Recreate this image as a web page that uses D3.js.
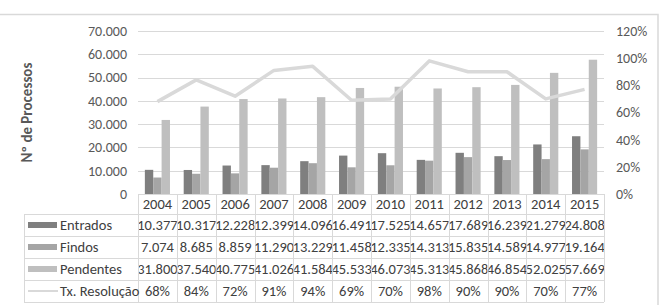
<!DOCTYPE html>
<html>
<head>
<meta charset="utf-8">
<script src="https://cdn.jsdelivr.net/npm/d3@7"></script>
<style>
  body { margin: 0; background: #fff; }
  svg { font-family: Carlito, "Noto Sans", "Open Sans", sans-serif; }
</style>
</head>
<body>
<div id="chart-area"></div>
<script>
// data
var years = ["2004","2005","2006","2007","2008","2009","2010","2011","2012","2013","2014","2015"];
var entrados  = [10377, 10317, 12228, 12399, 14096, 16491, 17525, 14657, 17689, 16239, 21279, 24808];
var findos    = [7074, 8685, 8859, 11290, 13229, 11458, 12335, 14313, 15835, 14589, 14977, 19164];
var pendentes = [31800, 37540, 40775, 41026, 41584, 45533, 46073, 45313, 45868, 46854, 52025, 57669];
var txResolucao = [0.68, 0.84, 0.72, 0.91, 0.94, 0.69, 0.70, 0.98, 0.90, 0.90, 0.70, 0.77];
var seriesNames = ["Entrados", "Findos", "Pendentes"];
var lineName = "Tx. Resolução";
var leftTicks = [0, 10000, 20000, 30000, 40000, 50000, 60000, 70000];
var rightTicks = [0, 0.2, 0.4, 0.6, 0.8, 1.0, 1.2];

var colors = { "Entrados": "#7f7f7f", "Findos": "#a5a5a5", "Pendentes": "#bfbfbf", line: "#d9d9d9" };
var gridColor = "#d9d9d9";

var W = 662, H = 305;
var plot = { left: 138, right: 604, top: 31, bottom: 194 };
var rowLines = [194, 214, 236, 258, 280, 302];
var tableLeft = 24;

var pt = d3.formatLocale({ decimal: ",", thousands: ".", grouping: [3], currency: ["", ""] });
var fmtNum = pt.format(",");
var fmtPct = d3.format(".0%");

var svg = d3.select("#chart-area").append("svg")
    .attr("width", W).attr("height", H);

// outer chart frame
svg.append("rect")
    .attr("x", -2).attr("y", 14.5)
    .attr("width", 660).attr("height", 300)
    .attr("fill", "none").attr("stroke", gridColor).attr("stroke-width", 1.5);

var x = d3.scaleBand().domain(years).range([plot.left, plot.right]);
var xs = d3.scaleBand().domain(seriesNames).range([0, x.bandwidth()]).paddingOuter(0.82);
var y = d3.scaleLinear().domain([0, 70000]).range([plot.bottom, plot.top]);
var y2 = d3.scaleLinear().domain([0, 1.2]).range([plot.bottom, plot.top]);

// gridlines
svg.append("g").selectAll("line").data(leftTicks.slice(1)).enter().append("line")
    .attr("x1", plot.left).attr("x2", plot.right)
    .attr("y1", function(d){ return Math.round(y(d)) + 0.5; })
    .attr("y2", function(d){ return Math.round(y(d)) + 0.5; })
    .attr("stroke", gridColor).attr("stroke-width", 1);

// left axis labels
svg.append("g").selectAll("text").data(leftTicks).enter().append("text")
    .attr("x", 127).attr("y", function(d){ return y(d); })
    .attr("dy", "0.35em").attr("text-anchor", "end")
    .attr("font-size", "14px").attr("fill", "#595959")
    .text(function(d){ return fmtNum(d); });

// right axis labels
svg.append("g").selectAll("text").data(rightTicks).enter().append("text")
    .attr("x", 616).attr("y", function(d){ return y2(d); })
    .attr("dy", "0.35em").attr("text-anchor", "start")
    .attr("font-size", "14px").attr("fill", "#595959")
    .text(function(d){ return fmtPct(d); });

// y axis title
svg.append("text")
    .attr("transform", "translate(32," + (plot.top + plot.bottom) / 2 + ") rotate(-90)")
    .attr("text-anchor", "middle")
    .attr("font-size", "15px").attr("font-weight", "bold").attr("fill", "#595959")
    .text("Nº de Processos");

// bars
var seriesData = { "Entrados": entrados, "Findos": findos, "Pendentes": pendentes };
var groups = svg.append("g").selectAll("g").data(years).enter().append("g")
    .attr("transform", function(d){ return "translate(" + x(d) + ",0)"; });
groups.selectAll("rect")
    .data(function(d, i){ return seriesNames.map(function(s){ return { s: s, v: seriesData[s][i] }; }); })
    .enter().append("rect")
    .attr("x", function(d){ return xs(d.s); })
    .attr("width", xs.bandwidth())
    .attr("y", function(d){ return y(d.v); })
    .attr("height", function(d){ return plot.bottom - y(d.v); })
    .attr("fill", function(d){ return colors[d.s]; });

// resolution rate line
svg.append("path")
    .datum(txResolucao)
    .attr("fill", "none")
    .attr("stroke", colors.line)
    .attr("stroke-width", 3.5)
    .attr("stroke-linejoin", "round")
    .attr("d", d3.line()
        .x(function(d, i){ return x(years[i]) + x.bandwidth() / 2; })
        .y(function(d){ return y2(d); }));

// ===== data table =====
var table = svg.append("g");
// horizontal lines
table.selectAll("line.h").data(rowLines).enter().append("line")
    .attr("class", "h")
    .attr("x1", function(d, i){ return i === 0 ? plot.left : tableLeft; })
    .attr("x2", plot.right)
    .attr("y1", function(d){ return d + 0.5; }).attr("y2", function(d){ return d + 0.5; })
    .attr("stroke", gridColor);
// vertical lines
var vx = years.map(function(d){ return x(d); }).concat([plot.right]);
table.selectAll("line.v").data(vx).enter().append("line")
    .attr("class", "v")
    .attr("x1", function(d){ return Math.round(d) + 0.5; }).attr("x2", function(d){ return Math.round(d) + 0.5; })
    .attr("y1", rowLines[0]).attr("y2", rowLines[5])
    .attr("stroke", gridColor);
table.append("line")
    .attr("x1", tableLeft + 0.5).attr("x2", tableLeft + 0.5)
    .attr("y1", rowLines[1]).attr("y2", rowLines[5])
    .attr("stroke", gridColor);

// clip paths per column so long numbers get cut like in the original
var defs = svg.append("defs");
years.forEach(function(yr, i){
    defs.append("clipPath").attr("id", "col" + i)
      .append("rect")
        .attr("x", x(yr) + 1).attr("y", rowLines[0])
        .attr("width", x.bandwidth() - 1).attr("height", rowLines[5] - rowLines[0]);
});

function rowMid(r){ return (rowLines[r] + rowLines[r + 1]) / 2; }

// year header
table.selectAll("text.yr").data(years).enter().append("text")
    .attr("x", function(d){ return x(d) + x.bandwidth() / 2; })
    .attr("y", rowMid(0)).attr("dy", "0.35em")
    .attr("text-anchor", "middle").attr("font-size", "14.5px").attr("fill", "#404040")
    .text(function(d){ return d; });

var rows = [
    { name: "Entrados", vals: entrados, f: fmtNum },
    { name: "Findos", vals: findos, f: fmtNum },
    { name: "Pendentes", vals: pendentes, f: fmtNum },
    { name: lineName, vals: txResolucao, f: fmtPct }
];

rows.forEach(function(row, r){
    var cy = rowMid(r + 1);
    // legend key
    if (r < 3) {
        table.append("rect").attr("x", 28).attr("y", cy - 3).attr("width", 29).attr("height", 6)
            .attr("fill", colors[row.name]);
    } else {
        table.append("line").attr("x1", 28).attr("x2", 58).attr("y1", cy).attr("y2", cy)
            .attr("stroke", colors.line).attr("stroke-width", 2);
    }
    table.append("text")
        .attr("x", 60).attr("y", cy).attr("dy", "0.35em")
        .attr("font-size", "14.5px").attr("fill", "#404040")
        .text(row.name);
    row.vals.forEach(function(v, i){
        table.append("text")
            .attr("clip-path", "url(#col" + i + ")")
            .attr("x", x(years[i]) + x.bandwidth() / 2).attr("y", cy).attr("dy", "0.35em")
            .attr("text-anchor", "middle").attr("font-size", "14.5px").attr("fill", "#404040")
            .text(row.f(v));
    });
});
</script>
</body>
</html>
